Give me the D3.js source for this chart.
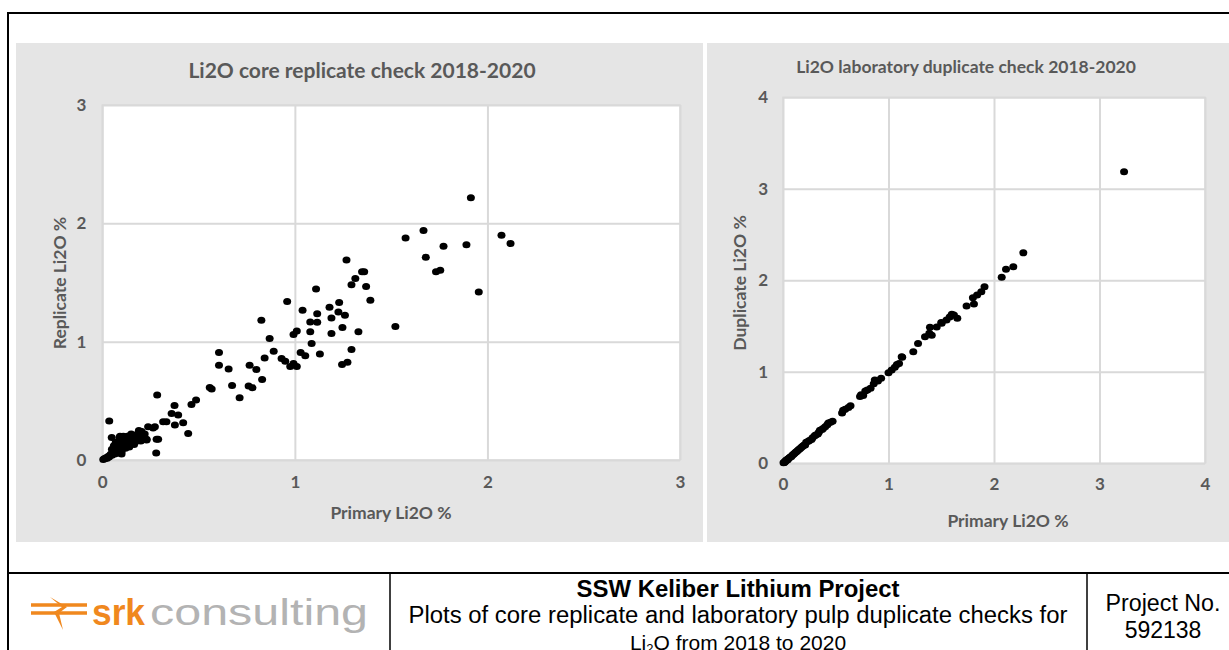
<!DOCTYPE html>
<html>
<head>
<meta charset="utf-8">
<script src="https://cdn.jsdelivr.net/npm/d3@7"></script>
<style>
  body { margin: 0; background: #fff; }
  svg { display: block; }
  .tick text { font-family: Lato, "Open Sans", sans-serif; }
</style>
</head>
<body>
<svg id="fig" width="1229" height="650"></svg>
<script>
// données
const coreTicks = [0, 1, 2, 3];
const dupTicks = [0, 1, 2, 3, 4];

const corePrimary = [
  0.005,0.01,0.015,0.02,0.025,0.03,0.035,0.04,0.045,0.05,
  0.055,0.06,0.065,0.07,0.075,0.08,0.085,0.09,0.1,0.1,
  0.11,0.12,0.12,0.13,0.14,0.14,0.15,0.16,0.165,0.17,
  0.18,0.19,0.2,0.21,0.22,0.23,0.06,0.08,0.09,0.07,
  0.11,0.13,0.15,0.05,0.19,0.2,0.1,0.036,0.049,0.092,
  0.109,0.17,0.187,0.204,0.238,0.264,0.273,0.282,0.29,0.23,
  0.28,0.285,0.316,0.333,0.36,0.375,0.394,0.377,0.42,0.446,
  0.463,0.487,0.558,0.568,0.606,0.606,0.656,0.674,0.713,0.765,
  0.76,0.78,0.8,0.826,0.83,0.843,0.869,0.89,0.931,0.95,
  0.96,0.976,0.993,1.01,0.993,1.01,1.04,1.03,1.054,1.08,
  1.08,1.087,1.11,1.116,1.116,1.13,1.18,1.19,1.19,1.23,
  1.226,1.26,1.247,1.268,1.245,1.273,1.294,1.294,1.314,1.33,
  1.349,1.36,1.37,1.392,1.522,1.575,1.668,1.68,1.733,1.755,
  1.772,1.891,1.914,1.955,2.073,2.12
];
const coreReplicate = [
  0.005,0.01,0.012,0.02,0.015,0.03,0.025,0.04,0.05,0.04,
  0.06,0.07,0.05,0.08,0.1,0.09,0.06,0.11,0.12,0.07,
  0.13,0.1,0.16,0.14,0.11,0.18,0.15,0.19,0.13,0.21,
  0.16,0.2,0.24,0.18,0.22,0.17,0.12,0.14,0.19,0.15,
  0.17,0.2,0.22,0.09,0.25,0.16,0.05,0.33,0.19,0.2,
  0.2,0.21,0.225,0.24,0.28,0.27,0.28,0.175,0.175,0.175,
  0.06,0.55,0.323,0.323,0.394,0.46,0.38,0.295,0.315,0.225,
  0.47,0.506,0.613,0.6,0.909,0.8,0.77,0.63,0.526,0.8,
  0.625,0.61,0.765,1.18,0.68,0.863,1.027,0.92,0.858,0.835,
  1.34,0.79,0.816,0.79,1.06,1.09,1.266,0.909,0.88,1.167,
  1.083,0.985,1.446,1.235,1.165,0.895,1.29,1.2,1.07,1.33,
  1.25,1.224,1.12,1.69,0.807,0.827,1.48,0.934,1.533,1.083,
  1.59,1.59,1.466,1.35,1.128,1.876,1.94,1.713,1.59,1.603,
  1.806,1.82,2.217,1.42,1.9,1.83
];

const dupPrimary = [
  0.01,0.02,0.03,0.04,0.05,0.06,0.07,0.08,0.09,0.1,
  0.11,0.12,0.13,0.14,0.15,0.16,0.17,0.18,0.19,0.2,
  0.21,0.22,0.24,0.25,0.27,0.28,0.3,0.31,0.33,0.34,
  0.35,0.37,0.38,0.4,0.42,0.43,0.45,0.47,0.56,0.57,
  0.59,0.62,0.64,0.73,0.74,0.76,0.78,0.8,0.83,0.86,
  0.87,0.9,0.93,1.0,1.03,1.06,1.08,1.1,1.13,1.125,
  1.235,1.28,1.346,1.387,1.393,1.41,1.457,1.504,1.55,1.6,
  1.652,1.74,1.81,1.8,1.84,1.88,1.91,2.073,2.114,2.183,
  2.278,3.233,0.005,0.015,0.025,0.035,0.045,1.58,1.62,1.5
];
const dupDuplicate = [
  0.01,0.02,0.03,0.035,0.05,0.06,0.07,0.075,0.09,0.1,
  0.11,0.12,0.13,0.14,0.15,0.16,0.17,0.18,0.19,0.2,
  0.2,0.23,0.24,0.25,0.26,0.28,0.3,0.31,0.32,0.34,
  0.36,0.37,0.38,0.4,0.42,0.44,0.45,0.46,0.55,0.58,
  0.59,0.61,0.63,0.73,0.75,0.74,0.79,0.8,0.82,0.87,
  0.91,0.9,0.93,0.99,1.02,1.05,1.08,1.09,1.16,1.165,
  1.22,1.31,1.384,1.42,1.486,1.4,1.49,1.53,1.566,1.63,
  1.585,1.72,1.74,1.81,1.84,1.875,1.93,2.033,2.12,2.149,
  2.3,3.186,0.005,0.012,0.028,0.04,0.042,1.6,1.62,1.54
];

const svg = d3.select("#fig");
const gris = "#595959";
const police = "Lato, 'Open Sans', sans-serif";

// fonds des deux panneaux
svg.append("rect").attr("x",16).attr("y",43).attr("width",687).attr("height",499).attr("fill","#e5e5e5");
svg.append("rect").attr("x",707).attr("y",43).attr("width",540).attr("height",499).attr("fill","#e5e5e5");

function panneau(p) {
  const x = d3.scaleLinear().domain(p.domaine).range([p.x0, p.x1]);
  const y = d3.scaleLinear().domain(p.domaine).range([p.y0, p.y1]);
  const g = svg.append("g");

  g.append("rect")
    .attr("x", p.x0).attr("y", p.y1)
    .attr("width", p.x1 - p.x0).attr("height", p.y0 - p.y1)
    .attr("fill", "#fff").attr("stroke", "#d9d9d9").attr("stroke-width", 1.5);

  // grille + étiquettes via les axes
  const ax = g.append("g").attr("transform", `translate(0,${p.y0})`)
    .call(d3.axisBottom(x).tickValues(p.ticks).tickSize(-(p.y0 - p.y1)).tickPadding(p.padX).tickFormat(d3.format("d")));
  const ay = g.append("g").attr("transform", `translate(${p.x0},0)`)
    .call(d3.axisLeft(y).tickValues(p.ticks).tickSize(-(p.x1 - p.x0)).tickPadding(p.padY).tickFormat(d3.format("d")));
  [ax, ay].forEach(a => {
    a.select(".domain").remove();
    a.selectAll("line").attr("stroke", "#d9d9d9").attr("stroke-width", 2);
    a.selectAll("text").attr("fill", gris).style("font-size", p.fsTick + "px").style("font-weight", "bold");
  });

  g.selectAll("ellipse.pt")
    .data(p.xs)
    .join("ellipse")
    .attr("class", "pt")
    .attr("cx", d => x(d))
    .attr("cy", (d, i) => y(p.ys[i]))
    .attr("rx", 4).attr("ry", 3.5)
    .attr("fill", "#000");

  g.append("text").attr("x", p.tx).attr("y", p.ty).attr("text-anchor", "middle")
    .style("font-family", police).style("font-size", p.fsTitre + "px").style("font-weight", "bold")
    .attr("fill", gris).text(p.titre);
  g.append("text").attr("x", p.xtx).attr("y", p.xty).attr("text-anchor", "middle")
    .style("font-family", police).style("font-size", p.fsAxe + "px").style("font-weight", "bold")
    .attr("fill", gris).text("Primary Li2O %");
  g.append("text").attr("transform", `translate(${p.ytx},${p.yty}) rotate(-90)`).attr("text-anchor", "middle")
    .style("font-family", police).style("font-size", p.fsAxe + "px").style("font-weight", "bold")
    .attr("fill", gris).text(p.titreY);
}

panneau({
  domaine: [0, 3], ticks: coreTicks, xs: corePrimary, ys: coreReplicate,
  x0: 102.3, x1: 680, y0: 460, y1: 105, padX: 16, padY: 16,
  fsTick: 17, fsTitre: 21, fsAxe: 17.5,
  titre: "Li2O core replicate check 2018-2020", tx: 362, ty: 78,
  xtx: 391, xty: 519, ytx: 66, yty: 283, titreY: "Replicate Li2O %"
});

panneau({
  domaine: [0, 4], ticks: dupTicks, xs: dupPrimary, ys: dupDuplicate,
  x0: 783, x1: 1205, y0: 463.3, y1: 97.3, padX: 15, padY: 15,
  fsTick: 17, fsTitre: 17.5, fsAxe: 17.5,
  titre: "Li2O laboratory duplicate check 2018-2020", tx: 966, ty: 73,
  xtx: 1008, xty: 527, ytx: 746, yty: 283, titreY: "Duplicate Li2O %"
});

// cadre et cartouche
svg.append("rect").attr("x",8).attr("y",13).attr("width",1240).attr("height",700)
  .attr("fill","none").attr("stroke","#000").attr("stroke-width",2);
svg.append("line").attr("x1",8).attr("x2",1229).attr("y1",573).attr("y2",573).attr("stroke","#000").attr("stroke-width",2);
svg.append("line").attr("x1",390).attr("x2",390).attr("y1",573).attr("y2",650).attr("stroke","#000").attr("stroke-width",1.5);
svg.append("line").attr("x1",1087).attr("x2",1087).attr("y1",573).attr("y2",650).attr("stroke","#000").attr("stroke-width",1.5);

const arial = "'Liberation Sans Narrow', 'Liberation Sans', Arial, sans-serif";
svg.append("text").attr("x",738).attr("y",597).attr("text-anchor","middle")
  .style("font-family",arial).style("font-size","23px").style("font-weight","bold")
  .attr("textLength",323).attr("lengthAdjust","spacingAndGlyphs").text("SSW Keliber Lithium Project");
svg.append("text").attr("x",738).attr("y",623).attr("text-anchor","middle")
  .style("font-family",arial).style("font-size","23px")
  .attr("textLength",659).attr("lengthAdjust","spacingAndGlyphs").text("Plots of core replicate and laboratory pulp duplicate checks for");
const l3 = svg.append("text").attr("x",738).attr("y",650).attr("text-anchor","middle")
  .style("font-family",arial).style("font-size","21px");
l3.append("tspan").text("Li");
l3.append("tspan").attr("dy",3).style("font-size","13px").text("2");
l3.append("tspan").attr("dy",-3).text("O from 2018 to 2020");
svg.append("text").attr("x",1163).attr("y",611).attr("text-anchor","middle")
  .style("font-family",arial).style("font-size","23px")
  .attr("textLength",115).attr("lengthAdjust","spacingAndGlyphs").text("Project No.");
svg.append("text").attr("x",1163).attr("y",638).attr("text-anchor","middle")
  .style("font-family",arial).style("font-size","23px").text("592138");

// logo srk
const orange = "#f0881e";
const logo = svg.append("g");
logo.append("path").attr("d","M31,605 H87 M31,613 H87").attr("stroke",orange).attr("stroke-width",3.5);
logo.append("path").attr("d","M50,597 L62,607 L54,612 L63,630 L59,613 L67,607 Z").attr("fill",orange);
logo.append("text").attr("x",92).attr("y",625).attr("textLength",53).attr("lengthAdjust","spacingAndGlyphs")
  .style("font-family","'Liberation Sans', Arial, sans-serif").style("font-size","37px").style("font-weight","bold")
  .attr("fill",orange).text("srk");
logo.append("text").attr("x",150).attr("y",625).attr("textLength",218).attr("lengthAdjust","spacingAndGlyphs")
  .style("font-family","'Liberation Sans', Arial, sans-serif").style("font-size","36px")
  .attr("fill","#b3b3b3").text("consulting");
</script>
</body>
</html>
